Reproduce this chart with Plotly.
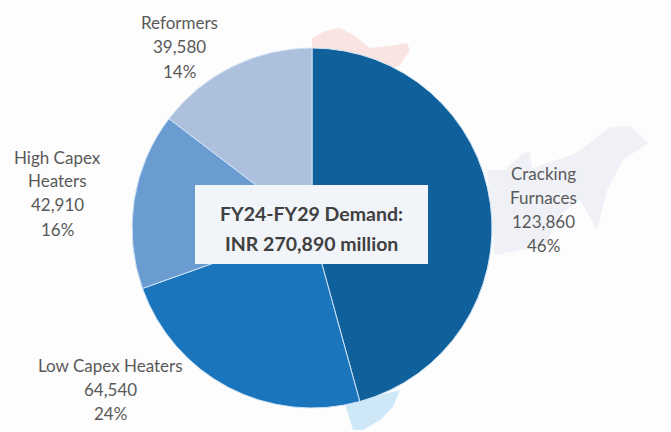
import plotly.graph_objects as go

categories = ["Cracking Furnaces", "Low Capex Heaters", "High Capex Heaters", "Reformers"]
values = [123860, 64540, 42910, 39580]
value_labels = ["123,860", "64,540", "42,910", "39,580"]
percent_labels = ["46%", "24%", "16%", "14%"]
label_lines = [["Cracking", "Furnaces"], ["Low Capex Heaters"], ["High Capex", "Heaters"], ["Reformers"]]
label_x = [543, 111, 57, 179]
label_top = [173, 365, 157, 23]
slice_colors = ["#0F609B", "#1A75BC", "#6A9BD1", "#ADC0DE"]
center_lines = ["FY24-FY29 Demand:", "INR 270,890 million"]

W, H = 671, 432
CX, CY, R = 312, 228, 180
LINE_STEP = 24

def px(x):
    return x / W

def py(y):
    return 1 - y / H

def path(points):
    return "M " + " L ".join(f"{px(x):.4f},{py(y):.4f}" for x, y in points) + " Z"

# Faint decorative map behind the pie
map_north = [(312, 38), (325, 31), (340, 28), (355, 36), (370, 48), (390, 46), (407, 43), (410, 50), (400, 65), (390, 70), (350, 55), (312, 48)]
map_east = [(487, 170), (505, 170), (523, 153), (530, 152), (532, 168), (577, 153), (610, 127), (630, 126), (648, 143), (623, 160), (607, 190), (597, 230), (587, 212), (580, 200), (560, 215), (545, 245), (495, 255)]
map_south = [(345, 404), (400, 390), (393, 407), (380, 420), (363, 430), (353, 430)]

shapes = [
    dict(type="path", xref="paper", yref="paper", path=path(map_north), fillcolor="#FAE4E2", line_width=0, layer="below"),
    dict(type="path", xref="paper", yref="paper", path=path(map_east), fillcolor="#EFF1F6", line_width=0, layer="below"),
    dict(type="path", xref="paper", yref="paper", path=path(map_south), fillcolor="#CFE8F8", line_width=0, layer="below"),
    dict(type="rect", xref="paper", yref="paper", x0=px(195), x1=px(428), y0=py(264), y1=py(185), fillcolor="#F1F4F8", line_width=0, layer="above"),
]

fig = go.Figure(go.Pie(
    labels=categories,
    values=values,
    sort=False,
    direction="clockwise",
    rotation=0,
    textinfo="none",
    hoverinfo="label+value+percent",
    marker=dict(colors=slice_colors, line=dict(color="#CFE3F5", width=1)),
    domain=dict(x=[px(CX-R), px(CX+R)], y=[py(CY+R), py(CY-R)]),
    showlegend=False,
))

annotations = []
for lines, val, pct, x, top in zip(label_lines, value_labels, percent_labels, label_x, label_top):
    for i, line in enumerate(lines + [val, pct]):
        annotations.append(dict(
            text=line, x=px(x), y=py(top + i * LINE_STEP), xref="paper", yref="paper",
            xanchor="center", yanchor="middle", showarrow=False,
            font=dict(family="Lato, Open Sans, sans-serif", size=17, color="#595959"),
        ))
for line, y in zip(center_lines, [213, 244]):
    annotations.append(dict(
        text="<b>" + line + "</b>", x=px(311.5), y=py(y), xref="paper", yref="paper",
        xanchor="center", yanchor="middle", showarrow=False,
        font=dict(family="Lato, Open Sans, sans-serif", size=19.5, color="#404040"),
    ))

fig.update_layout(
    width=W, height=H, margin=dict(l=0, r=0, t=0, b=0),
    paper_bgcolor="#FDFDFD", plot_bgcolor="#FDFDFD",
    shapes=shapes, annotations=annotations,
)
fig.write_html("out.html", config={"displayModeBar": False}, post_script="document.body.style.margin='0';")
